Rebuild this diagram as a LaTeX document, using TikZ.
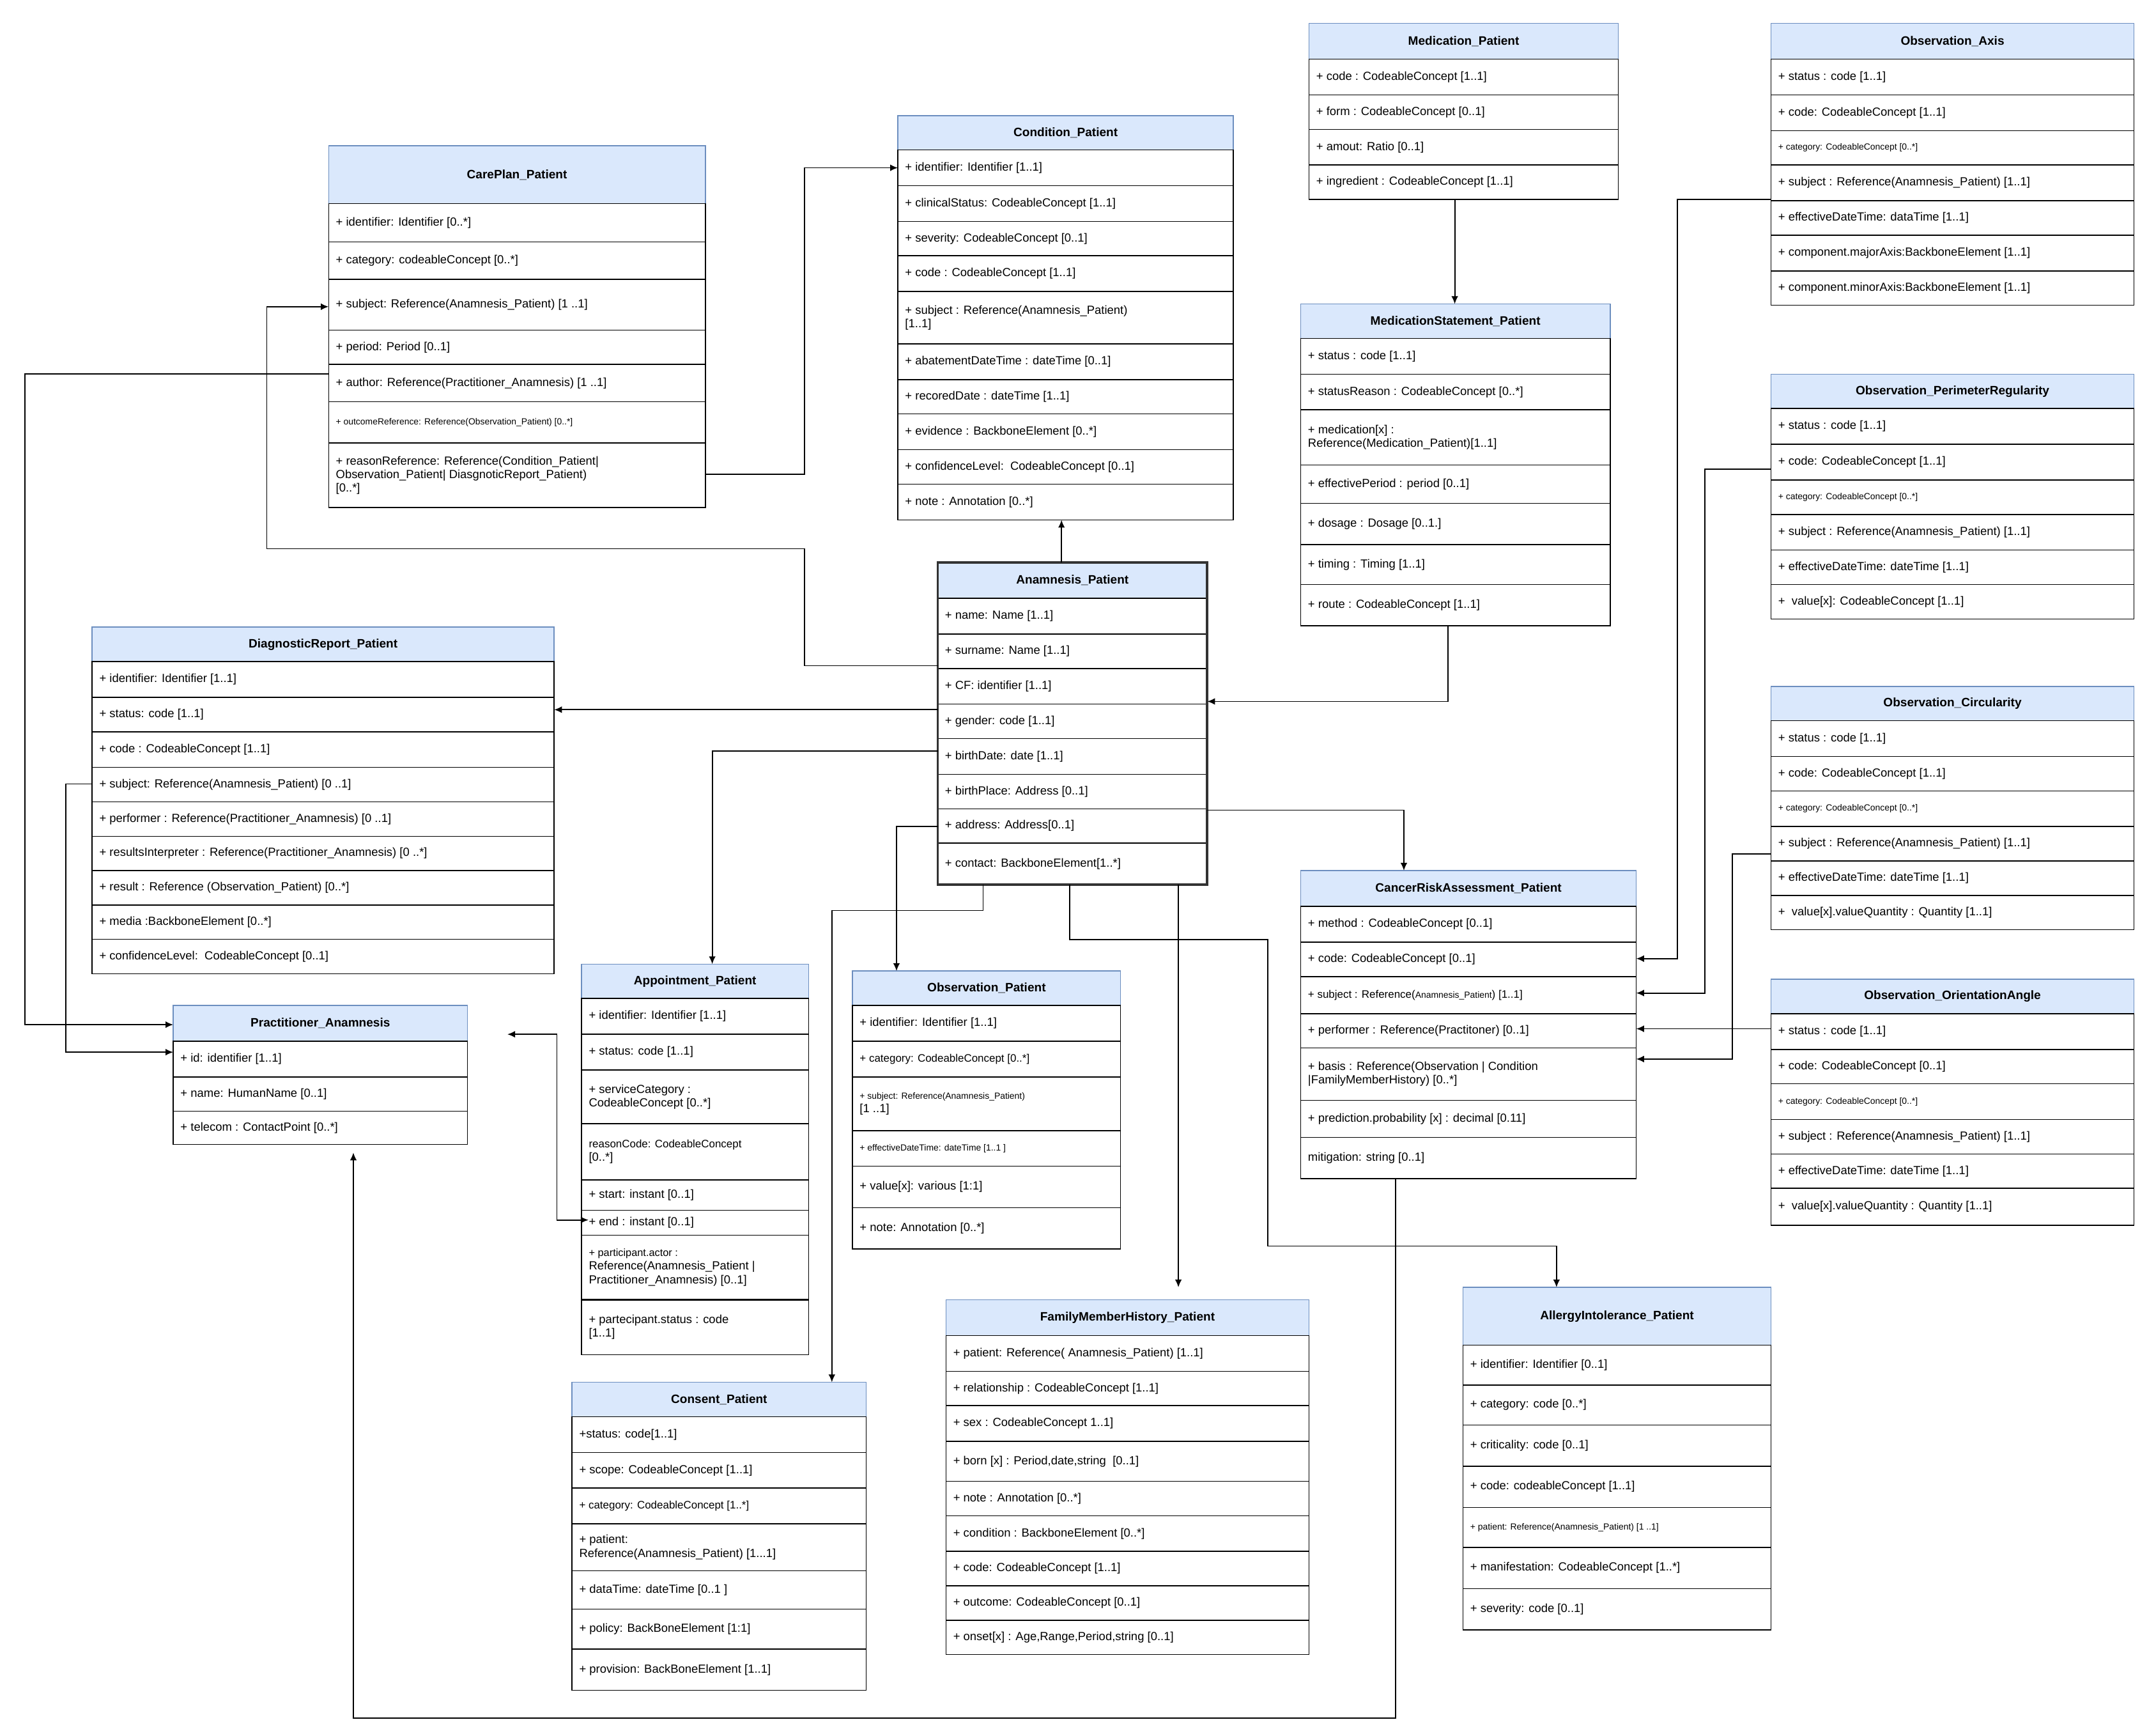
\documentclass[tikz,border=0pt]{standalone}
\usepackage{fontspec}
\setmainfont{Liberation Sans}
\usetikzlibrary{arrows.meta}
\definecolor{tfill}{HTML}{DAE8FC}
\definecolor{tdraw}{HTML}{6C8EBF}
\newcommand\sm[1]{{\fontsize{4.6}{5.4}\selectfont #1}}
\newcommand\ubox[6]{%
  \fill[tfill] (#1,#3) rectangle (#2,#4);
  \draw[tdraw,line width=0.5pt] (#1,#3) rectangle (#2,#4);
  \node[font=\bfseries\fontsize{6.3}{7.5}\selectfont] at ({(#1+#2)/2},{(#3+#4)/2}) {#5};
  \gdef\bxa{#1}\gdef\bxb{#2}\gdef\rya{#4}%
  #6
}
\newcommand\row[2]{%
  \draw[line width=0.5pt] (\bxa,\rya) rectangle (\bxb,#1);
  \node[anchor=west,align=left,inner sep=0pt,font=\fontsize{6.1}{7}\selectfont] at (\bxa+5,{(\rya+#1)/2}) {#2};
  \gdef\rya{#1}%
}
\tikzset{conn/.style={line width=0.6pt,-{Latex[length=4pt,width=3.5pt]}}}
\begin{document}
\begin{tikzpicture}[x=0.025cm,y=-0.025cm]
\useasboundingbox[fill=white] (0,0) rectangle (1568,1262);

\ubox{239}{513}{106}{148}{CarePlan\_Patient}{\row{176}{+ identifier: Identifier [0..*]}\row{203}{+ category: codeableConcept [0..*]}\row{240}{+ subject: Reference(Anamnesis\_Patient) [1 ..1]}\row{265}{+ period: Period [0..1]}\row{292}{+ author: Reference(Practitioner\_Anamnesis) [1 ..1]}\row{322}{\sm{+ outcomeReference: Reference(Observation\_Patient) [0..*]}}\row{369}{+ reasonReference: Reference(Condition\_Patient|\\Observation\_Patient| DiasgnoticReport\_Patient)\\{[0..*]}}}

\ubox{653}{897}{84}{109}{Condition\_Patient}{\row{135}{+ identifier: Identifier [1..1]}\row{161}{+ clinicalStatus: CodeableConcept [1..1]}\row{186}{+ severity: CodeableConcept [0..1]}\row{212}{+ code : CodeableConcept [1..1]}\row{250}{+ subject : Reference(Anamnesis\_Patient)\\{[1..1]}}\row{276}{+ abatementDateTime : dateTime [0..1]}\row{301}{+ recoredDate : dateTime [1..1]}\row{327}{+ evidence : BackboneElement [0..*]}\row{352}{+ confidenceLevel:\ \ CodeableConcept [0..1]}\row{378}{+ note : Annotation [0..*]}}

\ubox{952}{1177}{17}{43}{Medication\_Patient}{\row{69}{+ code : CodeableConcept [1..1]}\row{94}{+ form : CodeableConcept [0..1]}\row{120}{+ amout: Ratio [0..1]}\row{145}{+ ingredient : CodeableConcept [1..1]}}

\ubox{946}{1171}{221}{246}{MedicationStatement\_Patient}{\row{272}{+ status : code [1..1]}\row{298}{+ statusReason : CodeableConcept [0..*]}\row{338}{+ medication[x] :\\Reference(Medication\_Patient)[1..1]}\row{366}{+ effectivePeriod : period [0..1]}\row{396}{+ dosage : Dosage [0..1.]}\row{425}{+ timing : Timing [1..1]}\row{455}{+ route : CodeableConcept [1..1]}}

\ubox{1288}{1552}{17}{43}{Observation\_Axis}{\row{69}{+ status : code [1..1]}\row{95}{+ code: CodeableConcept [1..1]}\row{120}{\sm{+ category: CodeableConcept [0..*]}}\row{146}{+ subject : Reference(Anamnesis\_Patient) [1..1]}\row{171}{+ effectiveDateTime: dataTime [1..1]}\row{197}{+ component.majorAxis:BackboneElement [1..1]}\row{222}{+ component.minorAxis:BackboneElement [1..1]}}

\ubox{1288}{1552}{272}{297}{Observation\_PerimeterRegularity}{\row{323}{+ status : code [1..1]}\row{349}{+ code: CodeableConcept [1..1]}\row{374}{\sm{+ category: CodeableConcept [0..*]}}\row{400}{+ subject : Reference(Anamnesis\_Patient) [1..1]}\row{425}{+ effectiveDateTime: dateTime [1..1]}\row{450}{+\ \ value[x]: CodeableConcept [1..1]}}

\ubox{1288}{1552}{499}{524}{Observation\_Circularity}{\row{550}{+ status : code [1..1]}\row{575}{+ code: CodeableConcept [1..1]}\row{601}{\sm{+ category: CodeableConcept [0..*]}}\row{626}{+ subject : Reference(Anamnesis\_Patient) [1..1]}\row{651}{+ effectiveDateTime: dateTime [1..1]}\row{676}{+\ \ value[x].valueQuantity : Quantity [1..1]}}

\ubox{1288}{1552}{712}{737}{Observation\_OrientationAngle}{\row{763}{+ status : code [1..1]}\row{788}{+ code: CodeableConcept [0..1]}\row{814}{\sm{+ category: CodeableConcept [0..*]}}\row{839}{+ subject : Reference(Anamnesis\_Patient) [1..1]}\row{864}{+ effectiveDateTime: dateTime [1..1]}\row{891}{+\ \ value[x].valueQuantity : Quantity [1..1]}}

\ubox{682}{878}{409}{435}{Anamnesis\_Patient}{\row{461}{+ name: Name [1..1]}\row{486}{+ surname: Name [1..1]}\row{512}{+ CF: identifier [1..1]}\row{537}{+ gender: code [1..1]}\row{563}{+ birthDate: date [1..1]}\row{588}{+ birthPlace: Address [0..1]}\row{613}{+ address: Address[0..1]}\row{643}{+ contact: BackboneElement[1..*]}}
\draw[line width=1.3pt,black!80] (682,409) rectangle (878,643);

\ubox{67}{403}{456}{481}{DiagnosticReport\_Patient}{\row{507}{+ identifier: Identifier [1..1]}\row{532}{+ status: code [1..1]}\row{558}{+ code : CodeableConcept [1..1]}\row{583}{+ subject: Reference(Anamnesis\_Patient) [0 ..1]}\row{608}{+ performer : Reference(Practitioner\_Anamnesis) [0 ..1]}\row{633}{+ resultsInterpreter : Reference(Practitioner\_Anamnesis) [0 ..*]}\row{658}{+ result : Reference (Observation\_Patient) [0..*]}\row{683}{+ media :BackboneElement [0..*]}\row{708}{+ confidenceLevel:\ \ CodeableConcept [0..1]}}

\ubox{126}{340}{731}{757}{Practitioner\_Anamnesis}{\row{783}{+ id: identifier [1..1]}\row{808}{+ name: HumanName [0..1]}\row{832}{+ telecom : ContactPoint [0..*]}}

\ubox{423}{588}{701}{726}{Appointment\_Patient}{\row{752}{+ identifier: Identifier [1..1]}\row{778}{+ status: code [1..1]}\row{817}{+ serviceCategory :\\CodeableConcept [0..*]}\row{858}{\fontsize{5.6}{6.5}\selectfont reasonCode: CodeableConcept\\{[0..*]}}\row{880}{+ start: instant [0..1]}\row{898}{+ end : instant [0..1]}\row{945}{\fontsize{5.4}{6.6}\selectfont + participant.actor :\\Reference(Anamnesis\_Patient |\\Practitioner\_Anamnesis) [0..1]}\row{985}{+ partecipant.status : code\\{[1..1]}}}
\draw[line width=1.2pt] (423,945) -- (588,945);

\ubox{620}{815}{706}{731}{Observation\_Patient}{\row{757}{+ identifier: Identifier [1..1]}\row{783}{\fontsize{5.6}{6.5}\selectfont + category: CodeableConcept [0..*]}\row{822}{\fontsize{4.6}{5.6}\selectfont + subject: Reference(Anamnesis\_Patient)\\{[1 ..1]}}\row{848}{\sm{+ effectiveDateTime: dateTime [1..1 ]}}\row{878}{+ value[x]: various [1:1]}\row{908}{+ note: Annotation [0..*]}}

\ubox{946}{1190}{633}{659}{CancerRiskAssessment\_Patient}{\row{685}{+ method : CodeableConcept [0..1]}\row{710}{+ code: CodeableConcept [0..1]}\row{737}{\fontsize{5.6}{6.5}\selectfont + subject : Reference(\sm{Anamnesis\_Patient}) [1..1]}\row{762}{+ performer : Reference(Practitoner) [0..1]}\row{800}{+ basis : Reference(Observation | Condition\\|FamilyMemberHistory) [0..*]}\row{827}{+ prediction.probability [x] : decimal [0.11]}\row{857}{mitigation: string [0..1]}}

\ubox{688}{952}{945}{971}{FamilyMemberHistory\_Patient}{\row{997}{+ patient: Reference( Anamnesis\_Patient) [1..1]}\row{1022}{+ relationship : CodeableConcept [1..1]}\row{1048}{+ sex : CodeableConcept 1..1]}\row{1077}{+ born [x] : Period,date,string\ \ [0..1]}\row{1102}{+ note : Annotation [0..*]}\row{1128}{+ condition : BackboneElement [0..*]}\row{1153}{+ code: CodeableConcept [1..1]}\row{1178}{+ outcome: CodeableConcept [0..1]}\row{1203}{+ onset[x] : Age,Range,Period,string [0..1]}}

\ubox{1064}{1288}{936}{978}{AllergyIntolerance\_Patient}{\row{1007}{+ identifier: Identifier [0..1]}\row{1036}{+ category: code [0..*]}\row{1066}{+ criticality: code [0..1]}\row{1096}{+ code: codeableConcept [1..1]}\row{1125}{\sm{+ patient: Reference(Anamnesis\_Patient) [1 ..1]}}\row{1155}{+ manifestation: CodeableConcept [1..*]}\row{1185}{+ severity: code [0..1]}}

\ubox{416}{630}{1005}{1030}{Consent\_Patient}{\row{1056}{+status: code[1..1]}\row{1082}{+ scope: CodeableConcept [1..1]}\row{1108}{\fontsize{5.6}{6.5}\selectfont + category: CodeableConcept [1..*]}\row{1142}{+ patient:\\Reference(Anamnesis\_Patient) [1...1]}\row{1170}{+ dataTime: dateTime [0..1 ]}\row{1199}{+ policy: BackBoneElement [1:1]}\row{1229}{+ provision: BackBoneElement [1..1]}}

% connectors
\draw[conn] (772,409) -- (772,378);
\draw[conn] (513,345) -- (585,345) -- (585,122) -- (653,122);
\draw[conn] (682,484) -- (585,484) -- (585,399) -- (194,399) -- (194,223) -- (239,223);
\draw[conn] (239,272) -- (18,272) -- (18,745) -- (126,745);
\draw[conn] (682,516) -- (403,516);
\draw[conn] (67,570) -- (48,570) -- (48,765) -- (126,765);
\draw[conn] (682,546) -- (518,546) -- (518,701);
\draw[conn] (682,601) -- (652,601) -- (652,706);
\draw[conn] (715,643) -- (715,662) -- (605,662) -- (605,1005);
\draw[conn] (857,643) -- (857,936);
\draw[conn] (778,643) -- (778,683) -- (922,683) -- (922,906) -- (1132,906) -- (1132,936);
\draw[conn] (878,589) -- (1021,589) -- (1021,633);
\draw[conn] (1053,455) -- (1053,510) -- (878,510);
\draw[conn] (1058,145) -- (1058,221);
\draw[conn] (1288,145) -- (1220,145) -- (1220,697) -- (1190,697);
\draw[conn] (1288,341) -- (1240,341) -- (1240,722) -- (1190,722);
\draw[conn] (1288,621) -- (1260,621) -- (1260,770) -- (1190,770);
\draw[conn] (1288,748) -- (1190,748);
\draw[conn] (1015,857) -- (1015,1249) -- (257,1249) -- (257,838);
\draw[line width=0.6pt,{Latex[length=4pt,width=3.5pt]}-{Latex[length=4pt,width=3.5pt]}] (369,752) -- (405,752) -- (405,887) -- (428,887);
\end{tikzpicture}
\end{document}
